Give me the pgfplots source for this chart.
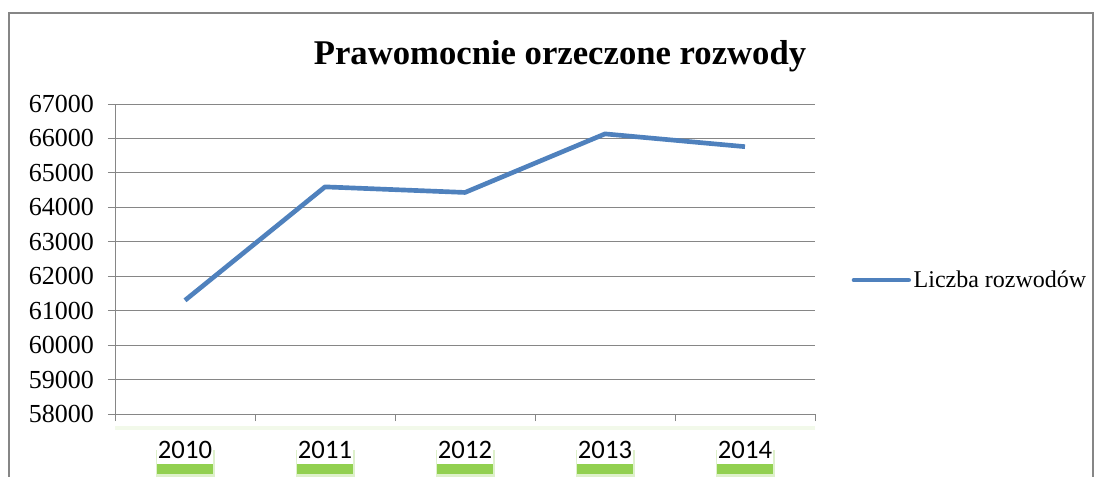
\documentclass[border=0pt]{standalone}
\usepackage{pgfplots}
\pgfplotsset{compat=1.18}
\usepackage{fontspec}
\setmainfont{Liberation Serif}
\newfontfamily\calibri{Carlito}
\usetikzlibrary{shadows}
\definecolor{gridgray}{RGB}{134,134,134}
\definecolor{seriesblue}{RGB}{79,129,189}
\definecolor{glowgreen}{RGB}{146,208,80}

\begin{document}
\begin{tikzpicture}
\useasboundingbox (0,0) rectangle (824.25pt,357pt);
% outer chart frame
\draw[gridgray, line width=1pt] (6.75pt,-5pt) rectangle (819.75pt,347.25pt);
\node[font=\fontsize{26}{30}\selectfont\bfseries] at (420pt,315pt) {Prawomocnie orzeczone rozwody};
\begin{axis}[
  at={(86.25pt,46.5pt)}, anchor=south west,
  scale only axis, width=525pt, height=232.5pt,
  xmin=-0.5, xmax=4.5, ymin=58000, ymax=67000,
  ytick distance=1000,
  scaled y ticks=false,
  /pgf/number format/1000 sep={},
  /pgf/number format/assume math mode=true,
  axis x line*=bottom, axis y line*=left,
  axis line style={gridgray, line width=0.75pt},
  ymajorgrids, grid style={gridgray, line width=0.75pt},
  tick align=outside,
  tick style={gridgray, line width=0.75pt},
  major tick length=5.25pt,
  yticklabel style={font=\fontsize{19.5}{21}\selectfont, xshift=-7pt},
  xtick={-0.5,0.5,1.5,2.5,3.5,4.5},
  xticklabels={},
  extra x ticks={0,1,2,3,4},
  extra x tick labels={2010,2011,2012,2013,2014},
  extra x tick style={major tick length=0pt, grid=none,
    xticklabel style={font=\calibri\fontsize{20}{22}\selectfont, fill=white,
      inner xsep=1pt, inner ysep=3.5pt,
      yshift=-17pt,
      general shadow={fill=glowgreen!30, shadow yshift=-9.5pt, shadow scale=1.04},
      drop shadow={fill=glowgreen, shadow xshift=0pt, shadow yshift=-8pt, opacity=1}}},
  clip=false,
  legend style={at={(1.052,0.432)}, anchor=west, draw=none, fill=none,
    font=\fontsize{18}{20}\selectfont, inner sep=0pt},
  legend cell align=left,
  legend image code/.code={\draw[#1, line cap=round] (0pt,0pt) -- (41pt,0pt);},
]
\draw[glowgreen, opacity=0.12, line width=3pt]
  ([yshift=-10.5pt]rel axis cs:0,0) -- ([yshift=-10.5pt]rel axis cs:1,0);
\addplot[seriesblue, line width=3.5pt, line join=round] coordinates {
  (0,61300) (1,64594) (2,64432) (3,66132) (4,65761)
};
\addlegendentry{Liczba rozwodów}
\end{axis}
\end{tikzpicture}
\end{document}
